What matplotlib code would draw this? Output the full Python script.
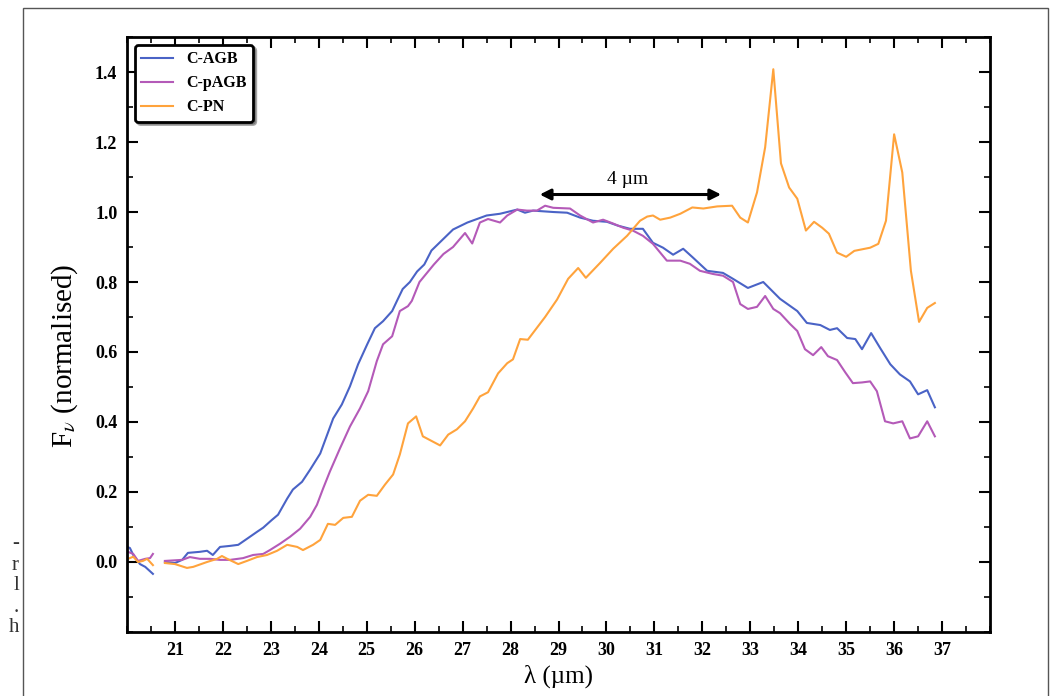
import numpy as np
import matplotlib
matplotlib.use('Agg')
import matplotlib.pyplot as plt
from matplotlib.patches import Rectangle
from matplotlib.ticker import MultipleLocator

plt.rcParams['font.family'] = ['Liberation Serif', 'DejaVu Serif']
plt.rcParams['mathtext.fontset'] = 'stix'

nan = np.nan

# C-AGB (blue)
wl_agb = [20.00, 20.06, 20.13, 20.27, 20.38, 20.54, 20.65,
          20.79, 21.00, 21.15, 21.27, 21.52, 21.67, 21.79, 21.94, 22.15, 22.32,
          22.50, 22.71, 22.84, 23.02, 23.15, 23.34, 23.46, 23.65, 23.82, 24.03,
          24.30, 24.48, 24.65, 24.82, 25.01, 25.17, 25.34, 25.53, 25.63, 25.75,
          25.90, 26.05, 26.20, 26.35, 26.50, 26.65, 26.80, 26.95, 27.10, 27.30,
          27.50, 27.78, 28.14, 28.30, 28.47, 28.89, 29.18, 29.45, 29.72, 30.01,
          30.24, 30.49, 30.76, 30.97, 31.18, 31.39, 31.60, 31.81, 32.10, 32.43,
          32.64, 32.95, 33.27, 33.62, 33.98, 34.18, 34.46, 34.66, 34.81, 35.02,
          35.19, 35.33, 35.52, 35.71, 35.92, 36.12, 36.33, 36.50, 36.69, 36.85]
f_agb = [0.043, 0.040, 0.020, -0.006, -0.014, -0.034, nan,
         0.000, -0.003, 0.006, 0.026, 0.029, 0.032, 0.020, 0.043, 0.046, 0.049,
         0.066, 0.086, 0.098, 0.120, 0.135, 0.181, 0.207, 0.229, 0.264, 0.310,
         0.410, 0.450, 0.502, 0.565, 0.622, 0.668, 0.688, 0.717, 0.746, 0.780,
         0.800, 0.830, 0.850, 0.890, 0.910, 0.930, 0.950, 0.960, 0.970, 0.980,
         0.990, 0.995, 1.007, 0.998, 1.004, 1.000, 0.998, 0.984, 0.975, 0.972,
         0.961, 0.952, 0.952, 0.912, 0.898, 0.878, 0.895, 0.869, 0.832, 0.826,
         0.809, 0.783, 0.800, 0.752, 0.717, 0.683, 0.677, 0.663, 0.668, 0.640,
         0.637, 0.608, 0.654, 0.611, 0.565, 0.536, 0.516, 0.479, 0.491, 0.442]

# C-pAGB (purple)
wl_pagb = [20.02, 20.13, 20.23, 20.38, 20.48, 20.54, 20.65,
           20.79, 21.15, 21.31, 21.52, 21.73, 21.94, 22.15, 22.42, 22.63, 22.84,
           22.98, 23.19, 23.40, 23.61, 23.82, 23.96, 24.09, 24.23, 24.44, 24.65,
           24.86, 25.03, 25.21, 25.34, 25.53, 25.69, 25.86, 25.94, 26.10, 26.40,
           26.60, 26.80, 27.05, 27.20, 27.36, 27.53, 27.78, 27.93, 28.14, 28.34,
           28.55, 28.72, 28.89, 29.24, 29.45, 29.72, 29.93, 30.14, 30.35, 30.55,
           30.76, 30.97, 31.26, 31.54, 31.74, 31.95, 32.22, 32.43, 32.64, 32.79,
           32.95, 33.14, 33.31, 33.48, 33.62, 33.83, 33.98, 34.14, 34.31, 34.48,
           34.62, 34.81, 34.98, 35.14, 35.33, 35.50, 35.64, 35.81, 35.98, 36.17,
           36.33, 36.50, 36.69, 36.85]
f_pagb = [0.029, 0.023, 0.003, 0.009, 0.011, 0.023, nan,
          0.003, 0.006, 0.014, 0.009, 0.009, 0.006, 0.006, 0.011, 0.020, 0.023,
          0.034, 0.052, 0.072, 0.095, 0.129, 0.163, 0.210, 0.258, 0.324, 0.387,
          0.439, 0.488, 0.574, 0.622, 0.645, 0.717, 0.731, 0.746, 0.800, 0.850,
          0.880, 0.900, 0.940, 0.910, 0.970, 0.980, 0.970, 0.990, 1.007, 1.004,
          1.004, 1.018, 1.012, 1.010, 0.990, 0.970, 0.978, 0.967, 0.955, 0.947,
          0.932, 0.909, 0.861, 0.861, 0.852, 0.832, 0.823, 0.818, 0.800, 0.737,
          0.723, 0.729, 0.760, 0.723, 0.711, 0.680, 0.660, 0.608, 0.591, 0.614,
          0.588, 0.577, 0.542, 0.511, 0.513, 0.516, 0.488, 0.402, 0.396, 0.402,
          0.353, 0.359, 0.402, 0.359]

# C-PN (orange)
wl_pn = [20.02, 20.13, 20.23, 20.33, 20.42, 20.54, 20.65,
         20.79, 21.00, 21.25, 21.38, 21.67, 21.88, 21.98, 22.09, 22.32, 22.50,
         22.71, 22.92, 23.13, 23.34, 23.55, 23.67, 23.88, 24.03, 24.19, 24.34,
         24.51, 24.69, 24.86, 25.03, 25.21, 25.38, 25.55, 25.69, 25.86, 26.03,
         26.17, 26.53, 26.70, 26.88, 27.05, 27.22, 27.36, 27.53, 27.74, 27.93,
         28.05, 28.20, 28.36, 28.72, 28.97, 29.20, 29.41, 29.57, 29.87, 30.14,
         30.43, 30.70, 30.85, 30.97, 31.12, 31.33, 31.54, 31.79, 32.02, 32.31,
         32.62, 32.79, 32.95, 33.14, 33.31, 33.48, 33.64, 33.81, 33.98, 34.16,
         34.33, 34.50, 34.64, 34.81, 35.00, 35.17, 35.50, 35.67, 35.83, 36.00,
         36.17, 36.35, 36.52, 36.69, 36.85]
f_pn = [0.009, 0.015, 0.000, 0.003, 0.009, -0.009, nan,
        -0.003, -0.006, -0.017, -0.014, 0.000, 0.009, 0.017, 0.009, -0.006, 0.003,
        0.014, 0.020, 0.032, 0.049, 0.043, 0.034, 0.049, 0.063, 0.109, 0.106,
        0.126, 0.129, 0.175, 0.192, 0.189, 0.221, 0.250, 0.307, 0.396, 0.416,
        0.359, 0.333, 0.364, 0.379, 0.402, 0.439, 0.473, 0.485, 0.539, 0.568,
        0.579, 0.637, 0.635, 0.700, 0.750, 0.809, 0.840, 0.812, 0.855, 0.895,
        0.932, 0.975, 0.987, 0.990, 0.978, 0.984, 0.995, 1.013, 1.010, 1.016,
        1.018, 0.984, 0.970, 1.056, 1.185, 1.408, 1.139, 1.070, 1.038, 0.947,
        0.972, 0.955, 0.938, 0.884, 0.872, 0.889, 0.898, 0.909, 0.975, 1.222,
        1.113, 0.832, 0.686, 0.726, 0.740]

fig = plt.figure(figsize=(10.55, 6.96), dpi=100)
ax = fig.add_axes([0.1204, 0.092, 0.818, 0.8548])

ax.plot(wl_agb, f_agb, color='#4a63c6', lw=1.5, label='C-AGB')
ax.plot(wl_pagb, f_pagb, color='#b45ab8', lw=1.5, label='C-pAGB')
ax.plot(wl_pn, f_pn, color='#ffa33c', lw=1.5, label='C-PN')

ax.annotate('', xy=(28.55, 1.05), xytext=(32.45, 1.05),
            arrowprops=dict(arrowstyle='<|-|>', color='black', lw=2.2,
                            mutation_scale=16))
ax.text(30.45, 1.07, '4 µm', ha='center', va='bottom', fontsize=14)

ax.set_xlim(20, 38)
ax.set_ylim(-0.2, 1.5)
ax.set_xticks(np.arange(21, 38, 1))
ax.set_yticks(np.arange(0.0, 1.41, 0.2))
ax.set_yticklabels(['%.1f' % v for v in np.arange(0.0, 1.41, 0.2)])
ax.xaxis.set_minor_locator(MultipleLocator(0.5))
ax.yaxis.set_minor_locator(MultipleLocator(0.1))
ax.tick_params(which='both', direction='in', top=True, right=True)
ax.tick_params(which='major', length=8, width=1.5, labelsize=13, pad=7)
ax.tick_params(which='minor', length=4, width=1.2)
for lab in ax.get_xticklabels() + ax.get_yticklabels():
    lab.set_fontweight('bold')
for sp in ax.spines.values():
    sp.set_linewidth(2)

ax.set_xlabel('λ (µm)', fontsize=18, labelpad=4)
ax.set_ylabel(r'F$_\nu$ (normalised)', fontsize=21, labelpad=8)
ax.yaxis.set_label_coords(-0.055, 0.465)

leg = ax.legend(loc='upper left', fancybox=True, shadow=True, framealpha=1,
                prop={'weight': 'bold', 'size': 11.5}, handlelength=2.0,
                borderaxespad=0.5)
leg.get_frame().set_edgecolor('black')
leg.get_frame().set_linewidth(2)

# page frame and caption fragments from the source page
fig.add_artist(Rectangle((23 / 1055, -0.1), 1025 / 1055, 0.1 + 688 / 696,
                         transform=fig.transFigure, fill=False,
                         edgecolor='#555555', lw=1, clip_on=False))
for ch, py in zip(['-', 'r', 'l', '.', 'h'], [543, 565, 586, 607, 628]):
    fig.text(19 / 1055, 1 - py / 696, ch, ha='right', va='center',
             fontsize=15, color='#333333')

fig.savefig('out.png', dpi=100)
